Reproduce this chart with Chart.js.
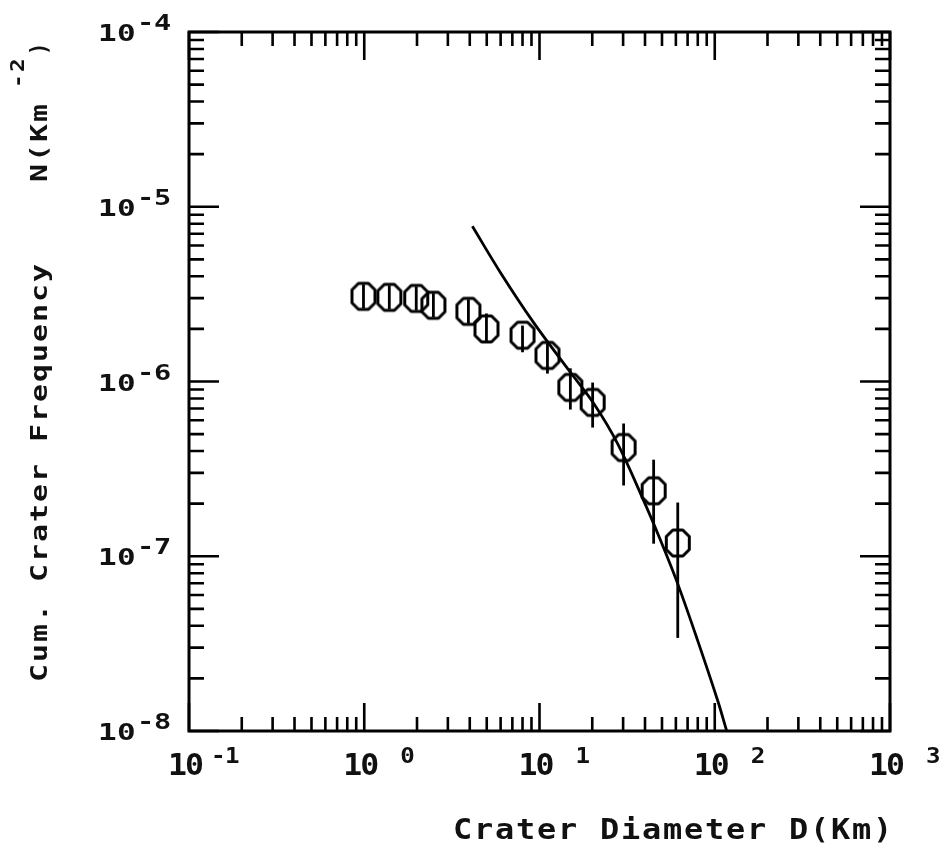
<!DOCTYPE html>
<html lang="en">
<head>
    <meta charset="UTF-8">
    <title>Cum. Crater Frequency</title>
    <script src="https://cdn.jsdelivr.net/npm/chart.js"></script>
    <style>
        body { margin: 0; background: #fff; }
        canvas { display: block; }
    </style>
</head>
<body>
    <canvas id="canvas_crateras" width="948" height="854"></canvas>
<script>
    // crater counts (D in km, N in km^-2)
    const diametros = [0.99, 1.39, 1.98, 2.48, 3.93, 4.98, 8.0, 11.1, 15.0, 20.1, 30.2, 44.8, 61.5];
    const frequencias = [3.07e-6, 3.03e-6, 2.99e-6, 2.73e-6, 2.52e-6, 2.0e-6, 1.84e-6, 1.41e-6, 9.25e-7, 7.59e-7, 4.19e-7, 2.37e-7, 1.19e-7];
    const erroAlto = [3.6e-6, 3.55e-6, 3.5e-6, 3.2e-6, 2.95e-6, 2.45e-6, 2.09e-6, 1.65e-6, 1.19e-6, 9.86e-7, 5.75e-7, 3.57e-7, 2.03e-7];
    const erroBaixo = [2.62e-6, 2.59e-6, 2.55e-6, 2.33e-6, 2.15e-6, 1.67e-6, 1.47e-6, 1.11e-6, 6.91e-7, 5.45e-7, 2.54e-7, 1.18e-7, 3.41e-8];

    // fitted curve
    const curvaD = [4.14, 5.98, 9.24, 15.0, 20.4, 27.9, 39.3, 49.1, 61.5, 80.0, 104, 117];
    const curvaN = [7.73e-6, 4.21e-6, 2.18e-6, 1.13e-6, 7.48e-7, 4.41e-7, 2.08e-7, 1.23e-7, 6.95e-8, 3.28e-8, 1.49e-8, 1.0e-8];

    // axis decades
    const ticksX = [0.1, 1, 10, 100, 1000];
    const expoentesX = ['-1', ' 0', ' 1', ' 2', ' 3'];
    const ticksY = [1e-4, 1e-5, 1e-6, 1e-7, 1e-8];
    const expoentesY = ['-4', '-5', '-6', '-7', '-8'];

    const fonte = '"DejaVu Sans Mono", monospace';

    // octagon marker
    function criarMarcador() {
        const c = document.createElement('canvas');
        c.width = 30; c.height = 32;
        const g = c.getContext('2d');
        const w = 23, h = 26, k = 6.5;
        const x0 = (30 - w) / 2, y0 = (32 - h) / 2;
        g.beginPath();
        g.moveTo(x0 + k, y0);
        g.lineTo(x0 + w - k, y0);
        g.lineTo(x0 + w, y0 + k);
        g.lineTo(x0 + w, y0 + h - k);
        g.lineTo(x0 + w - k, y0 + h);
        g.lineTo(x0 + k, y0 + h);
        g.lineTo(x0, y0 + h - k);
        g.lineTo(x0, y0 + k);
        g.closePath();
        g.lineWidth = 3;
        g.lineJoin = 'round';
        g.strokeStyle = '#000';
        g.stroke();
        return c;
    }

    function escreverEspacado(ctx, texto, x, y, passo, sx) {
        for (let i = 0; i < texto.length; i++) {
            ctx.save();
            ctx.translate(x + i * passo, y);
            ctx.scale(sx, 1);
            ctx.fillText(texto[i], 0, 0);
            ctx.restore();
        }
    }

    const pluginEixos = {
        id: 'eixos',
        afterDatasetsDraw(chart) {
            const ctx = chart.ctx;
            const a = chart.chartArea;
            const sx = chart.scales.x;
            const sy = chart.scales.y;

            // error bars
            ctx.save();
            ctx.strokeStyle = '#000';
            ctx.lineWidth = 2.8;
            for (let i = 0; i < diametros.length; i++) {
                const px = sx.getPixelForValue(diametros[i]);
                ctx.beginPath();
                ctx.moveTo(px, sy.getPixelForValue(erroAlto[i]));
                ctx.lineTo(px, sy.getPixelForValue(erroBaixo[i]));
                ctx.stroke();
            }
            ctx.restore();

            // frame
            ctx.save();
            ctx.strokeStyle = '#000';
            ctx.lineWidth = 3;
            ctx.strokeRect(a.left, a.top, a.right - a.left, a.bottom - a.top);

            // inward ticks
            ctx.lineWidth = 2.6;
            ctx.beginPath();
            for (let d = 0; d < ticksX.length; d++) {
                for (let m = 1; m <= 9; m++) {
                    const v = ticksX[d] * m;
                    if (v > ticksX[ticksX.length - 1]) break;
                    const px = sx.getPixelForValue(v);
                    const len = m === 1 ? 28 : 14;
                    ctx.moveTo(px, a.bottom); ctx.lineTo(px, a.bottom - len);
                    ctx.moveTo(px, a.top); ctx.lineTo(px, a.top + len);
                }
            }
            for (let d = ticksY.length - 1; d >= 0; d--) {
                for (let m = 1; m <= 9; m++) {
                    const v = ticksY[d] * m;
                    if (v > ticksY[0]) break;
                    const py = sy.getPixelForValue(v);
                    const len = m === 1 ? 30 : 15;
                    ctx.moveTo(a.left, py); ctx.lineTo(a.left + len, py);
                    ctx.moveTo(a.right, py); ctx.lineTo(a.right - len, py);
                }
            }
            ctx.stroke();

            ctx.fillStyle = '#111';
            ctx.textAlign = 'left';
            ctx.textBaseline = 'alphabetic';

            // y labels
            for (let i = 0; i < ticksY.length; i++) {
                const py = sy.getPixelForValue(ticksY[i]);
                ctx.font = 'bold 23px ' + fonte;
                escreverEspacado(ctx, '10', 98, py + 9, 19, 1.35);
                ctx.font = 'bold 22px ' + fonte;
                escreverEspacado(ctx, expoentesY[i], 137, py - 2, 17, 1.3);
            }

            // x labels
            for (let i = 0; i < ticksX.length; i++) {
                const px = sx.getPixelForValue(ticksX[i]);
                ctx.font = 'bold 30px ' + fonte;
                escreverEspacado(ctx, '10', px - 21, 775, 17, 1.05);
                ctx.font = 'bold 22px ' + fonte;
                escreverEspacado(ctx, expoentesX[i], px + 22, 763, 14, 1.1);
            }

            // x title
            ctx.font = 'bold 29px ' + fonte;
            escreverEspacado(ctx, 'Crater Diameter D(Km)', 453, 839, 21, 1.1);

            // y title
            ctx.save();
            ctx.translate(47, 682);
            ctx.rotate(-Math.PI / 2);
            ctx.font = 'bold 23px ' + fonte;
            escreverEspacado(ctx, 'Cum. Crater Frequency    N(Km', 0, 0, 20, 1.3);
            ctx.font = 'bold 19px ' + fonte;
            escreverEspacado(ctx, '-2', 594, -23, 16, 1.2);
            ctx.font = 'bold 23px ' + fonte;
            escreverEspacado(ctx, ')', 627, 0, 20, 0.9);
            ctx.restore();

            ctx.restore();
        }
    };

    const pontos = diametros.map((d, i) => ({ x: d, y: frequencias[i] }));
    const curva = curvaD.map((d, i) => ({ x: d, y: curvaN[i] }));

    new Chart(document.getElementById('canvas_crateras'), {
        type: 'scatter',
        data: {
            datasets: [
                {
                    label: 'ajuste',
                    data: curva,
                    showLine: true,
                    borderColor: '#000',
                    borderWidth: 2.8,
                    pointRadius: 0,
                    tension: 0.35
                },
                {
                    label: 'crateras',
                    data: pontos,
                    pointStyle: criarMarcador(),
                    pointRadius: 13
                }
            ]
        },
        options: {
            responsive: false,
            animation: false,
            layout: { padding: { left: 189, right: 58, top: 32, bottom: 123 } },
            plugins: { legend: { display: false }, tooltip: { enabled: false } },
            scales: {
                x: { type: 'logarithmic', min: 0.1, max: 1000, display: false },
                y: { type: 'logarithmic', min: 1e-8, max: 1e-4, display: false }
            }
        },
        plugins: [pluginEixos]
    });
</script>
</body>
</html>
